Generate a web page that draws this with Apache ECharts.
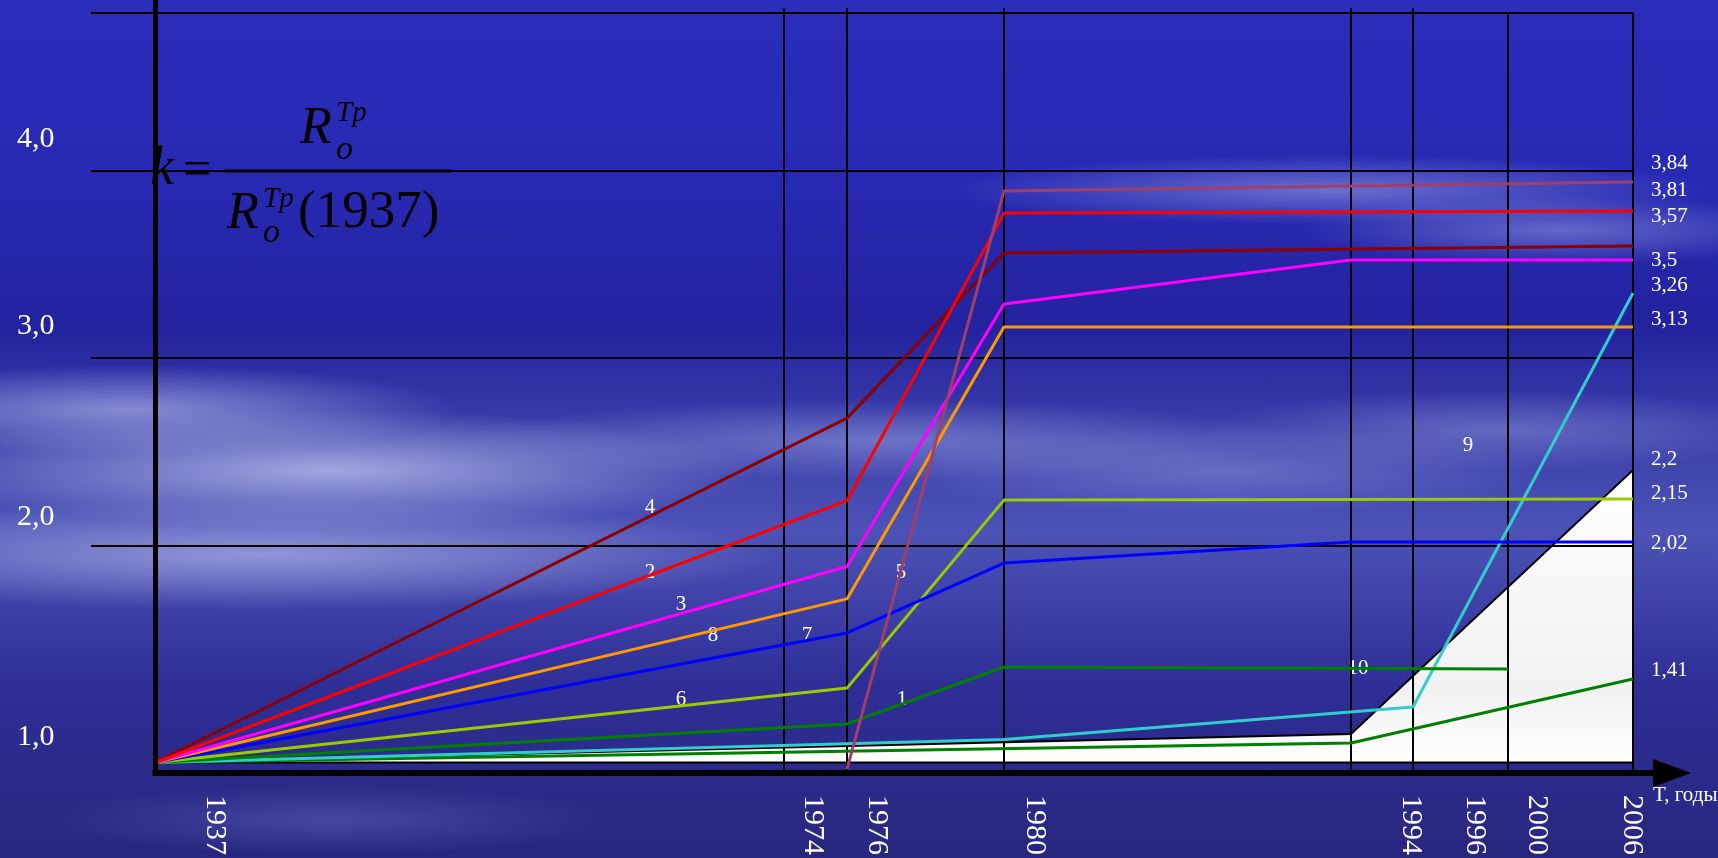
<!DOCTYPE html>
<html><head><meta charset="utf-8">
<script src="https://cdn.jsdelivr.net/npm/echarts@6/dist/echarts.min.js"></script>
<style>
html,body{margin:0;padding:0;overflow:hidden;}
#c{width:1718px;height:858px;
background:
 radial-gradient(ellipse 430px 60px at 330px 470px, rgba(185,190,235,0.8), rgba(185,190,235,0) 100%),
 radial-gradient(ellipse 520px 55px at 260px 555px, rgba(170,175,230,0.75), rgba(170,175,230,0) 100%),
 radial-gradient(ellipse 330px 45px at 130px 410px, rgba(170,175,230,0.7), rgba(170,175,230,0) 100%),
 radial-gradient(ellipse 420px 40px at 880px 440px, rgba(150,158,222,0.55), rgba(150,158,222,0) 100%),
 radial-gradient(ellipse 330px 45px at 1220px 470px, rgba(140,148,218,0.5), rgba(140,148,218,0) 100%),
 radial-gradient(ellipse 380px 35px at 1330px 190px, rgba(160,168,228,0.55), rgba(160,168,228,0) 100%),
 radial-gradient(ellipse 260px 35px at 1560px 230px, rgba(160,168,228,0.5), rgba(160,168,228,0) 100%),
 radial-gradient(ellipse 300px 40px at 1500px 430px, rgba(150,158,222,0.45), rgba(150,158,222,0) 100%),
 radial-gradient(ellipse 280px 35px at 330px 820px, rgba(90,95,185,0.55), rgba(90,95,185,0) 100%),
 linear-gradient(to bottom, #2b2dbb 0%, #2829b2 22%, #23229f 38%, #3a3ea9 50%, #4c52b6 62%, #2e2e96 80%, #28277f 100%);
}
</style></head><body><div id="c"></div>
<script>
// schematic (non-uniform) time axis: years and their position along the axis
const axisYears = [1937, 1974, 1976, 1980, 1994, 1996, 2000, 2006];
const axisPos   = [0, 62.9, 69.2, 84.9, 119.6, 125.8, 135.3, 147.8];
const yearLabels   = ['1937', '1974', '1976', '1980', '1994', '1996', '2000', '2006'];
const yearLabelPos = [6.0, 65.8, 72.2, 88.0, 125.6, 132.0, 138.2, 147.7];
const yTickText = ['1,0', '2,0', '3,0', '4,0'];
const yTickPos  = [1.124, 2.195, 3.129, 4.041];
const hGridValues = [2.056, 2.973, 3.885, 4.656];
const hGridFrom = 1933.2, hGridTo = 2006;
const vGridYears = [1974, 1976, 1980, 1994, 1996, 2000, 2006];
const vGridTop   = [4.68, 4.68, 4.68, 4.68, 4.68, 4.656, 4.656];

// series (k values)
const line1  = [[1937, 1.0], [1976, 1.188], [1980, 1.466], [2000, 1.456]];
const line2  = [[1937, 1.0], [1976, 2.277], [1980, 3.680], [2006, 3.690]];
const line3  = [[1937, 1.0], [1976, 1.956], [1980, 3.237], [1994, 3.451], [2006, 3.451]];
const line4  = [[1937, 1.0], [1976, 2.680], [1980, 3.485], [2006, 3.520]];
const line5  = [[1976, 0.968], [1980, 3.788], [2006, 3.832]];
const line6  = [[1937, 1.0], [1976, 1.363], [1980, 2.280], [2006, 2.285]];
const line7  = [[1937, 1.0], [1976, 1.632], [1980, 1.973], [1994, 2.076], [2006, 2.076]];
const line8  = [[1937, 1.0], [1976, 1.798], [1980, 3.124], [2006, 3.124]];
const line9  = [[1937, 1.0], [1980, 1.112], [1996, 1.271], [2006, 3.290]];
const line10 = [[1937, 1.0], [1994, 1.095], [2006, 1.407]];
const whiteArea = [[1937, 1.0], [1994, 1.139], [2006, 2.427], [2006, 1.0]];

const endLabels = ['3,84', '3,81', '3,57', '3,5', '3,26', '3,13', '2,2', '2,15', '2,02', '1,41'];
const lineNames = ['4', '2', '3', '8', '7', '6', '5', '1', '10', '9'];

const X_MIN = -6.4, X_MAX = 151.7, Y_MIN = 0.9488, Y_MAX = 4.7195;

function xp(year) {
  let i = 0;
  while (i < axisYears.length - 2 && year > axisYears[i + 1]) i++;
  const t = (year - axisYears[i]) / (axisYears[i + 1] - axisYears[i]);
  return axisPos[i] + t * (axisPos[i + 1] - axisPos[i]);
}
const mapPts = arr => arr.map(p => [xp(p[0]), p[1]]);

const chart = echarts.init(document.getElementById('c'), null, {renderer: 'canvas'});
const SERIF = '"Liberation Serif", "Times New Roman", serif';

function lineSeries(data, color) {
  return {type: 'line', data: mapPts(data), symbol: 'none', z: 3, silent: true,
    lineStyle: {color: color, width: 3}, animation: false};
}

const gridLines = [];
hGridValues.forEach(v => gridLines.push([{coord: [Math.max(X_MIN, xp(hGridFrom)), v]}, {coord: [xp(hGridTo), v]}]));
vGridYears.forEach((y, i) => gridLines.push([{coord: [xp(y), Y_MIN]}, {coord: [xp(y), vGridTop[i]]}]));

// text positions (layout only)
const endLabelY = [163, 190, 216, 260, 285, 319, 459, 493, 543, 670];
const nameXY = [[650, 507], [650, 572], [681, 604], [713, 635], [807, 635], [681, 699], [901, 572], [902, 699], [1358, 668], [1468, 445]];

const graphic = [];
endLabels.forEach((t, i) => graphic.push({type: 'text', x: 1651, y: endLabelY[i], silent: true,
  style: {text: t, fill: '#fff', font: '21px ' + SERIF, textAlign: 'left', textVerticalAlign: 'middle', align: 'left', verticalAlign: 'middle'}}));
lineNames.forEach((t, i) => graphic.push({type: 'text', x: nameXY[i][0], y: nameXY[i][1], silent: true,
  style: {text: t, fill: '#fff', font: '21px ' + SERIF, textAlign: 'center', textVerticalAlign: 'middle', align: 'center', verticalAlign: 'middle'}}));
graphic.push({type: 'text', x: 1653, y: 795, silent: true,
  style: {text: 'T, годы', fill: '#fff', font: '21px ' + SERIF, textAlign: 'left', textVerticalAlign: 'middle', align: 'left', verticalAlign: 'middle'}});
// formula k = R_o^Tp / R_o^Tp(1937)
function ft(text, x, y, size, italic) {
  graphic.push({type: 'text', x: x, y: y, silent: true, z: 50,
    style: {text: text, fill: '#000', font: (italic ? 'italic ' : '') + size + 'px ' + SERIF,
      textAlign: 'left', textVerticalAlign: 'middle', align: 'left', verticalAlign: 'middle'}});
}
ft('k', 150, 170, 54, true);
ft('=', 183, 172, 50, false);
ft('R', 300, 129, 52, true);
ft('Tp', 336, 113, 29, true);
ft('o', 336, 150, 34, true);
ft('R', 227, 214, 52, true);
ft('Tp', 263, 199, 29, true);
ft('o', 263, 233, 34, true);
ft('(1937)', 298, 213, 53, false);
graphic.push({type: 'line', silent: true, z: 50, shape: {x1: 225, y1: 171, x2: 451, y2: 171}, style: {stroke: '#000', lineWidth: 3}});

const option = {
  animation: false,
  backgroundColor: 'transparent',
  grid: {left: 91, right: 46, top: 0, bottom: 85, containLabel: false, outerBoundsMode: 'none'},
  xAxis: {type: 'value', min: X_MIN, max: X_MAX, z: 0,
    axisLine: {show: false},
    axisTick: {show: false}, splitLine: {show: false},
    axisLabel: {show: true, customValues: yearLabelPos, rotate: -90, margin: 22, color: '#fff', fontSize: 30, fontFamily: SERIF,
      formatter: v => { let b = 0; yearLabelPos.forEach((p, i) => { if (Math.abs(p - v) < Math.abs(yearLabelPos[b] - v)) b = i; }); return yearLabels[b]; }}
  },
  yAxis: {type: 'value', min: Y_MIN, max: Y_MAX, z: 0,
    axisLine: {show: false, onZero: false},
    axisTick: {show: false}, splitLine: {show: false},
    axisLabel: {show: true, customValues: yTickPos, align: 'left', margin: 74, color: '#fff', fontSize: 30, fontFamily: SERIF,
      formatter: v => { let b = 0; yTickPos.forEach((p, i) => { if (Math.abs(p - v) < Math.abs(yTickPos[b] - v)) b = i; }); return yTickText[b]; }}
  },
  graphic: graphic,
  series: [
    {type: 'custom', z: 1, silent: true, clip: false, data: mapPts(whiteArea),
      renderItem: function (params, api) {
        if (params.dataIndex !== 0) return null;
        const pts = whiteArea.map(p => api.coord([xp(p[0]), p[1]]));
        return {type: 'polygon', shape: {points: pts},
          style: {fill: new echarts.graphic.LinearGradient(0, 0, 0, 1, [{offset: 0, color: '#ffffff'}, {offset: 0.75, color: '#f1f1f1'}, {offset: 1, color: '#ffffff'}]),
            stroke: '#000', lineWidth: 2}};
      }},
    {type: 'line', data: [], z: 2, silent: true,
      markLine: {silent: true, z: 2, symbol: ['none', 'none'], label: {show: false}, animation: false,
        lineStyle: {color: '#000', width: 2, type: 'solid'}, emphasis: {disabled: true}, data: gridLines}},
    {type: 'line', data: [], z: 4, silent: true,
      markLine: {silent: true, z: 4, symbol: ['none', 'none'], label: {show: false}, animation: false,
        lineStyle: {color: '#000', width: 5, type: 'solid'}, emphasis: {disabled: true},
        data: [[{coord: [0, Y_MIN]}, {coord: [0, Y_MAX]}]]}},
    {type: 'line', data: [], z: 4, silent: true,
      markLine: {silent: true, z: 4, symbol: ['none', 'triangle'], symbolSize: [28, 38], label: {show: false}, animation: false,
        lineStyle: {color: '#000', width: 6, type: 'solid'}, itemStyle: {color: '#000'}, emphasis: {disabled: true},
        data: [[{coord: [-0.25, Y_MIN]}, {coord: [X_MAX, Y_MIN]}]]}},
    lineSeries(line10, '#008000'),
    lineSeries(line9, '#33CCCC'),
    lineSeries(line1, '#008000'),
    lineSeries(line6, '#99CC00'),
    lineSeries(line7, '#0000FF'),
    lineSeries(line8, '#FF9900'),
    lineSeries(line3, '#FF00FF'),
    lineSeries(line4, '#8B0000'),
    lineSeries(line2, '#FF0000'),
    lineSeries(line5, '#A0406A')
  ]
};
chart.setOption(option);
</script></body></html>
